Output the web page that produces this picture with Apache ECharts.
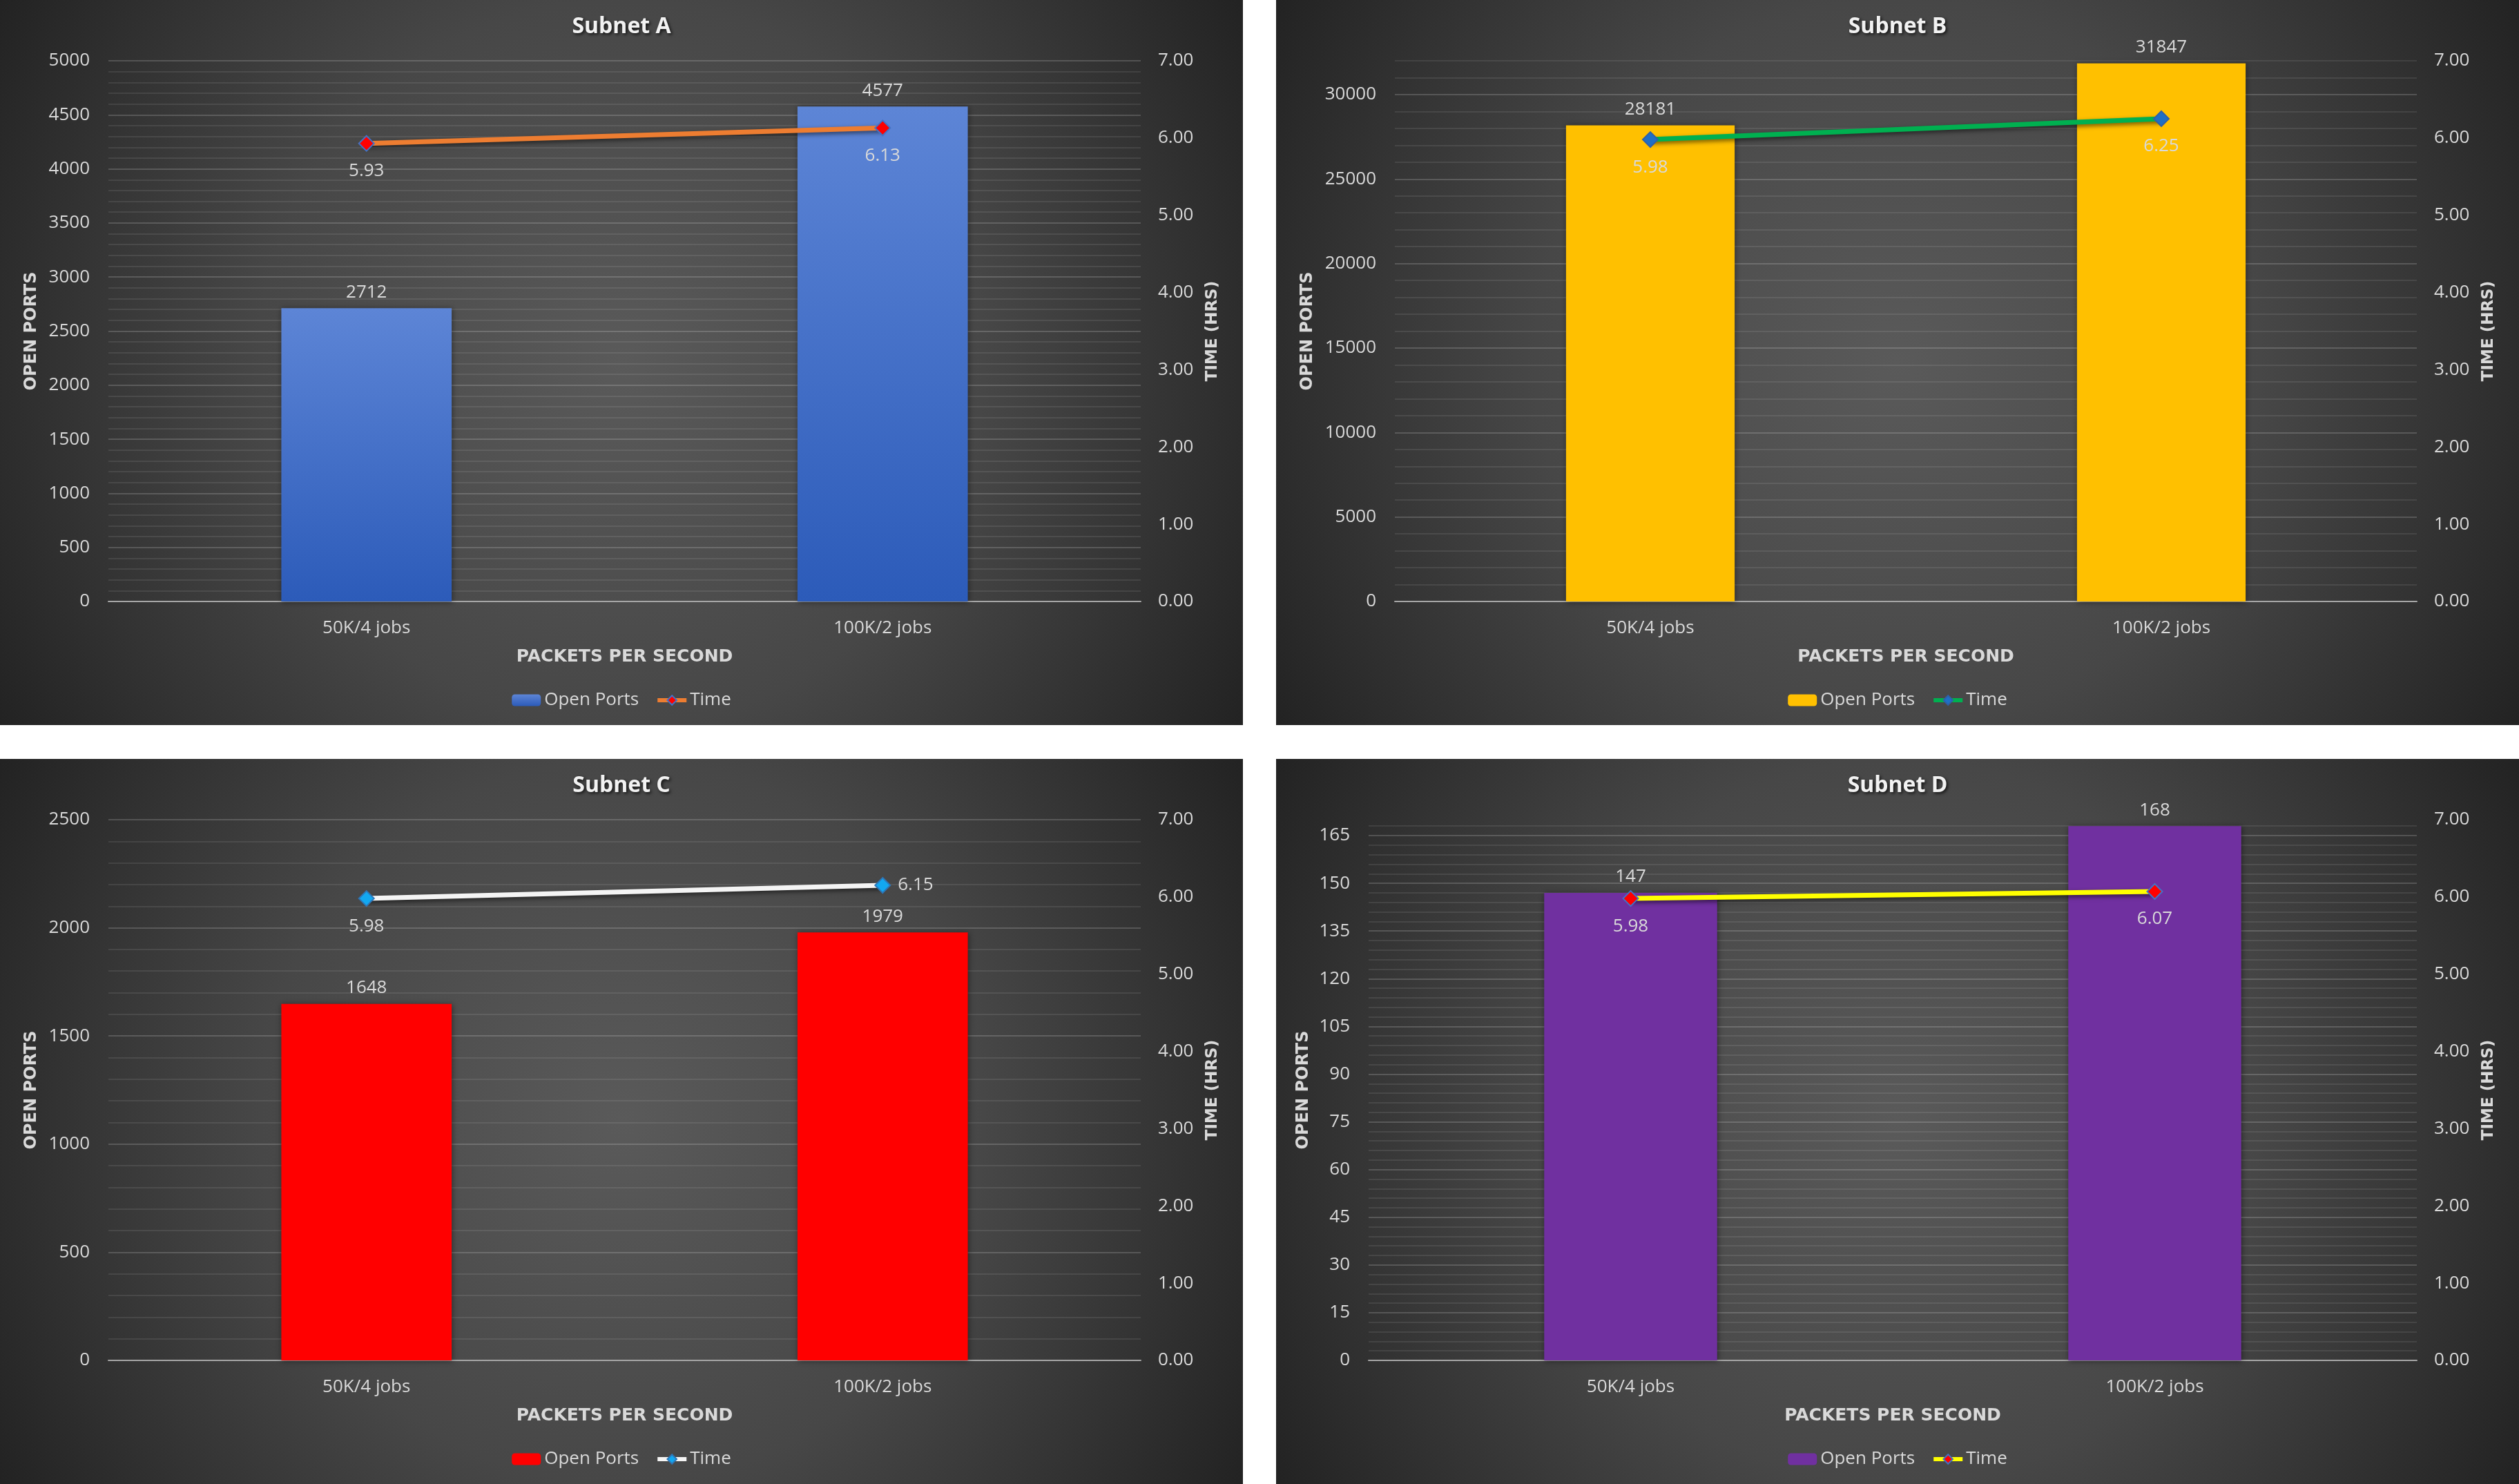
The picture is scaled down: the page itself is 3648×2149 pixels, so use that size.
<!DOCTYPE html>
<html><head><meta charset="utf-8">
<script src="https://cdn.jsdelivr.net/npm/echarts@6/dist/echarts.min.js"></script>
<style>
html,body{margin:0;padding:0;background:#ffffff;width:3648px;height:2149px;overflow:hidden}
.p{position:absolute;width:1800px;height:1050px}
</style></head><body>
<div id="pa" class="p" style="left:0;top:0"></div>
<div id="pb" class="p" style="left:1848px;top:0"></div>
<div id="pc" class="p" style="left:0;top:1099px"></div>
<div id="pd" class="p" style="left:1848px;top:1099px"></div>
<script>
// ---- data ----
const categories = ['50K/4 jobs', '100K/2 jobs'];
const titles = ['Subnet A', 'Subnet B', 'Subnet C', 'Subnet D'];
const openPortsA = [2712, 4577];
const openPortsB = [28181, 31847];
const openPortsC = [1648, 1979];
const openPortsD = [147, 168];
const timeA = [5.93, 6.13];
const timeB = [5.98, 6.25];
const timeC = [5.98, 6.15];
const timeD = [5.98, 6.07];
const portAxisMax = [5000, 32000, 2500, 170];
const portAxisMajor = [500, 5000, 500, 15];
const portAxisMinor = [100, 1000, 100, 3];
const timeAxisMax = 7;
const timeAxisStep = 1;
const seriesNames = ['Open Ports', 'Time'];
const axisNames = ['PACKETS PER SECOND', 'OPEN PORTS', 'TIME (HRS)'];

// ---- styles ----
const TXT = '#d9d9d9';
const FONT = "'Open Sans', sans-serif";
const BOLD = "'DejaVu Sans', sans-serif";
const styles = [
  { left: 157, bar: { type: 'linear', x: 0, y: 0, x2: 0, y2: 1, colorStops: [{ offset: 0, color: '#5d85d6' }, { offset: 1, color: '#2c5bb9' }] },
    line: '#ed7d31', mFill: '#ff0000', mBorder: '#4472c4', labelPos: ['bottom', 'bottom'] },
  { left: 172, bar: '#ffc000', line: '#00b050', mFill: '#1f6fc5', mBorder: '#2f5fa8', labelPos: ['bottom', 'bottom'] },
  { left: 157, bar: '#ff0000', line: '#f4f4f4', mFill: '#12a8f0', mBorder: '#2e75b6', labelPos: ['bottom', 'right'] },
  { left: 134, bar: '#7030a0', line: '#ffff00', mFill: '#ff0000', mBorder: '#4472c4', labelPos: ['bottom', 'bottom'] }
];

function build(idx, el, ports, times) {
  const st = styles[idx];
  const chart = echarts.init(el, null, { renderer: 'canvas' });
  const major = portAxisMajor[idx], minor = portAxisMinor[idx], pmax = portAxisMax[idx];
  const ratio = Math.round(major / minor);
  const gridColors = [];
  for (let i = 0; i < ratio; i++) gridColors.push(i === 0 ? 'rgba(255,255,255,0.17)' : 'rgba(255,255,255,0.085)');
  const lineData = times.map((v, i) => ({
    value: v,
    label: { position: st.labelPos[i], distance: st.labelPos[i] === 'right' ? 10 : 15 }
  }));
  chart.setOption({
    backgroundColor: { type: 'radial', x: 0.5, y: 0.5, r: 1.0, colorStops: [
      { offset: 0, color: '#5a5a5a' }, { offset: 0.5, color: '#474747' }, { offset: 1, color: '#222222' }] },
    animation: false,
    title: {
      text: titles[idx], left: 'center', top: 23, padding: 0,
      textStyle: { color: '#f2f2f2', fontFamily: FONT, fontWeight: 'bold', fontSize: 32,
        textShadowColor: 'rgba(0,0,0,0.75)', textShadowBlur: 4, textShadowOffsetX: 2, textShadowOffsetY: 2 }
    },
    legend: {
      data: seriesNames, left: 'center', top: 1001, padding: 0,
      itemWidth: 42, itemHeight: 17, itemGap: 24,
      lineStyle: { width: 6 },
      textStyle: { color: TXT, fontFamily: FONT, fontSize: 26 }
    },
    grid: { left: st.left, right: 148, top: 88, bottom: 179 },
    xAxis: {
      type: 'category', data: categories,
      axisLine: { show: true, lineStyle: { color: '#a6a6a6', width: 2 } },
      axisTick: { show: false },
      axisLabel: { color: TXT, fontFamily: FONT, fontSize: 26, margin: 26 },
      name: axisNames[0], nameLocation: 'middle', nameGap: 68,
      nameTextStyle: { color: TXT, fontFamily: BOLD, fontWeight: 'bold', fontSize: 25 }
    },
    yAxis: [
      {
        type: 'value', min: 0, max: pmax, interval: minor,
        name: axisNames[1], nameLocation: 'middle', nameRotate: 90, nameGap: st.left - 58,
        nameTextStyle: { color: TXT, fontFamily: BOLD, fontWeight: 'bold', fontSize: 24 },
        axisLine: { show: false }, axisTick: { show: false },
        axisLabel: { color: TXT, fontFamily: FONT, fontSize: 26, margin: 27,
          formatter: v => (Math.round(v) % major === 0 ? String(Math.round(v)) : '') },
        splitLine: { show: true, showMaxLine: pmax % minor === 0, lineStyle: { color: gridColors, width: 2 } }
      },
      {
        type: 'value', min: 0, max: timeAxisMax, interval: timeAxisStep, position: 'right',
        name: axisNames[2], nameLocation: 'middle', nameRotate: 90, nameGap: 93,
        nameTextStyle: { color: TXT, fontFamily: BOLD, fontWeight: 'bold', fontSize: 23 },
        axisLine: { show: false }, axisTick: { show: false },
        axisLabel: { color: TXT, fontFamily: FONT, fontSize: 26, margin: 25, formatter: v => v.toFixed(2) },
        splitLine: { show: false }
      }
    ],
    series: [
      {
        name: seriesNames[0], type: 'bar', data: ports, barWidth: '33%',
        itemStyle: { color: st.bar, shadowColor: 'rgba(0,0,0,0.45)', shadowBlur: 8, shadowOffsetX: 1, shadowOffsetY: 1 },
        label: { show: true, position: 'top', distance: 10, color: TXT, fontFamily: FONT, fontSize: 26 }
      },
      {
        name: seriesNames[1], type: 'line', yAxisIndex: 1, data: lineData,
        symbol: 'diamond', symbolSize: 22,
        lineStyle: { color: st.line, width: 7, shadowColor: 'rgba(0,0,0,0.55)', shadowBlur: 6, shadowOffsetY: 3 },
        itemStyle: { color: st.mFill, borderColor: st.mBorder, borderWidth: 2 },
        label: { show: true, color: TXT, fontFamily: FONT, fontSize: 26, formatter: p => p.value.toFixed(2) },
        z: 5
      }
    ]
  });
}

build(0, document.getElementById('pa'), openPortsA, timeA);
build(1, document.getElementById('pb'), openPortsB, timeB);
build(2, document.getElementById('pc'), openPortsC, timeC);
build(3, document.getElementById('pd'), openPortsD, timeD);
</script>
</body></html>
